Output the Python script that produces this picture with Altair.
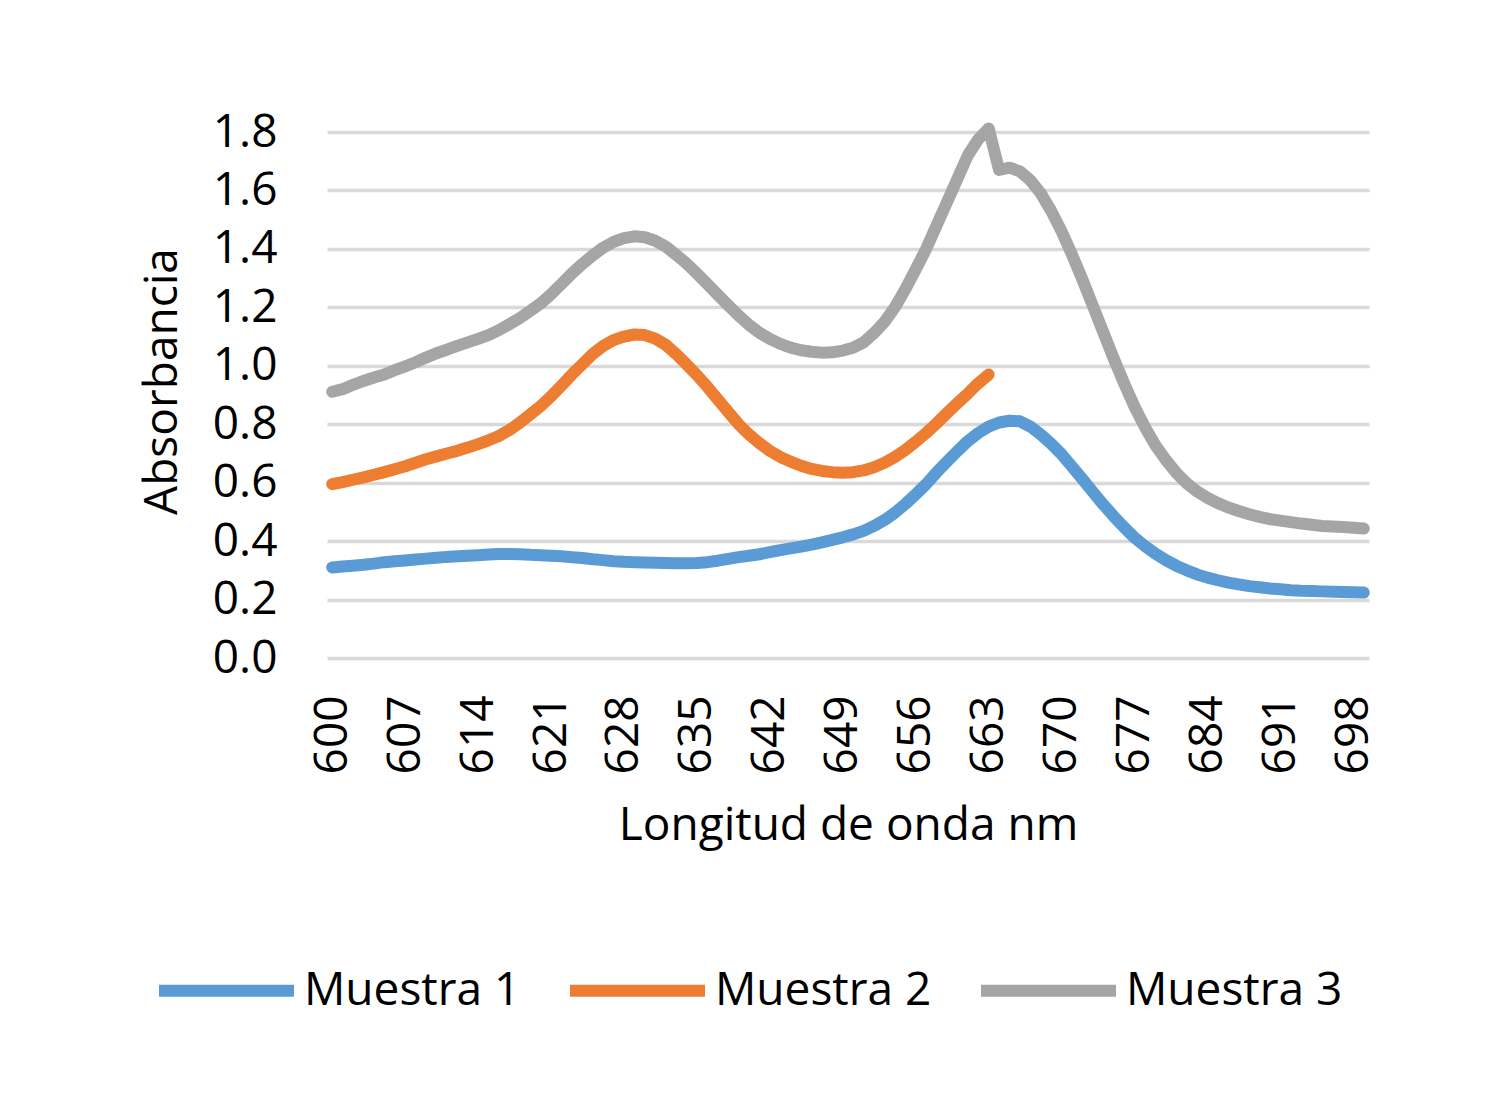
import altair as alt
import pandas as pd

wavelengths = list(range(600, 700))

muestra1 = [
    0.310, 0.313, 0.316, 0.319, 0.323, 0.328, 0.331, 0.334, 0.337, 0.340,
    0.343, 0.346, 0.348, 0.350, 0.352, 0.354, 0.356, 0.356, 0.355, 0.353,
    0.352, 0.350, 0.348, 0.345, 0.342, 0.338, 0.335, 0.331, 0.329, 0.328,
    0.327, 0.326, 0.325, 0.324, 0.324, 0.325, 0.328, 0.333, 0.339, 0.345,
    0.350, 0.355, 0.362, 0.369, 0.375, 0.381, 0.388, 0.396, 0.404, 0.413,
    0.423, 0.435, 0.452, 0.472, 0.497, 0.527, 0.560, 0.595, 0.635, 0.672,
    0.708, 0.742, 0.770, 0.792, 0.806, 0.812, 0.810, 0.792, 0.765, 0.733,
    0.697, 0.655, 0.612, 0.568, 0.525, 0.485, 0.447, 0.412, 0.383, 0.357,
    0.335, 0.316, 0.300, 0.286, 0.275, 0.266, 0.258, 0.252, 0.246, 0.242,
    0.238, 0.235, 0.232, 0.230, 0.229, 0.228, 0.227, 0.226, 0.225, 0.224,
]

muestra2 = [
    0.595, 0.602, 0.610, 0.618, 0.627, 0.636, 0.646, 0.656, 0.668, 0.680,
    0.690, 0.700, 0.709, 0.720, 0.732, 0.745, 0.760, 0.780, 0.805, 0.833,
    0.862, 0.895, 0.932, 0.970, 1.005, 1.040, 1.068, 1.088, 1.100, 1.107,
    1.105, 1.093, 1.072, 1.040, 1.005, 0.968, 0.928, 0.885, 0.842, 0.800,
    0.765, 0.735, 0.709, 0.688, 0.672, 0.658, 0.647, 0.640, 0.636, 0.634,
    0.636, 0.642, 0.653, 0.668, 0.688, 0.712, 0.740, 0.770, 0.803, 0.838,
    0.872, 0.905, 0.940, 0.970,
]

muestra3 = [
    0.911, 0.920, 0.935, 0.948, 0.960, 0.970, 0.985, 0.998, 1.012, 1.028,
    1.043, 1.055, 1.068, 1.080, 1.092, 1.105, 1.122, 1.142, 1.163, 1.188,
    1.213, 1.245, 1.280, 1.316, 1.348, 1.378, 1.404, 1.424, 1.437, 1.443,
    1.440, 1.428, 1.408, 1.380, 1.350, 1.316, 1.280, 1.243, 1.207, 1.172,
    1.140, 1.113, 1.092, 1.075, 1.062, 1.053, 1.048, 1.045, 1.046, 1.052,
    1.062, 1.080, 1.112, 1.150, 1.200, 1.262, 1.330, 1.400, 1.480, 1.560,
    1.640, 1.720, 1.775, 1.812, 1.670, 1.678, 1.665, 1.635, 1.590, 1.530,
    1.460, 1.380, 1.295, 1.205, 1.115, 1.025, 0.940, 0.860, 0.790, 0.728,
    0.678, 0.634, 0.598, 0.570, 0.548, 0.530, 0.515, 0.503, 0.492, 0.483,
    0.475, 0.470, 0.465, 0.460, 0.456, 0.452, 0.450, 0.448, 0.446, 0.443,
]

series_names = ["Muestra 1", "Muestra 2", "Muestra 3"]
series_colors = ["#5B9BD5", "#ED7D31", "#A5A5A5"]
x_tick_values = [600, 607, 614, 621, 628, 635, 642, 649, 656, 663, 670, 677, 684, 691, 698]
y_tick_values = [0.0, 0.2, 0.4, 0.6, 0.8, 1.0, 1.2, 1.4, 1.6, 1.8]

rows = []
for name, vals in zip(series_names, [muestra1, muestra2, muestra3]):
    for w, v in zip(wavelengths, vals):
        rows.append({"nm": w, "absorbancia": v, "serie": name})
df = pd.DataFrame(rows)

FONT = "Open Sans"
FS = 46

chart = alt.Chart(df).mark_line(
    strokeWidth=12, strokeCap="round", strokeJoin="round"
).encode(
    x=alt.X(
        "nm:Q",
        scale=alt.Scale(domain=[599.5, 699.5], nice=False, zero=False),
        axis=alt.Axis(
            values=x_tick_values, format="d", labelAngle=-90, grid=False,
            ticks=False, domain=False, labelPadding=37, labelFontSize=FS,
            labelFont=FONT, labelColor="#000000", labelFlush=False,
            title="Longitud de onda nm", titleFont=FONT, titleFontSize=FS,
            titleFontWeight="normal", titleColor="#000000", titlePadding=30,
        ),
    ),
    y=alt.Y(
        "absorbancia:Q",
        scale=alt.Scale(domain=[0, 1.8], nice=False),
        axis=alt.Axis(
            values=y_tick_values, format=".1f", grid=True, gridColor="#D9D9D9",
            gridWidth=3.5, ticks=False, domain=False, labelPadding=50,
            labelFontSize=FS, labelFont=FONT, labelColor="#000000",
            title="Absorbancia", titleFont=FONT, titleFontSize=FS,
            titleFontWeight="normal", titleColor="#000000",
            titleX=-165, titleY=249, titleAlign="center", titleBaseline="middle",
            titleAngle=-90,
        ),
    ),
    color=alt.Color(
        "serie:N",
        scale=alt.Scale(domain=series_names, range=series_colors),
        legend=alt.Legend(
            title=None, orient="none", legendX=-174, legendY=785, padding=0,
            direction="horizontal", symbolType="stroke", symbolSize=18225,
            symbolStrokeWidth=12, labelFontSize=FS, labelFont=FONT,
            labelColor="#000000", labelOffset=4, columnPadding=25,
            labelLimit=0,
        ),
    ),
).properties(
    width=1042,
    height=526,
    padding={"left": 319, "top": 124, "right": 100, "bottom": 420},
    autosize=alt.AutoSizeParams(type="none"),
).configure_view(stroke=None)

chart.save("out.html", embed_options={"renderer": "svg", "actions": False})
